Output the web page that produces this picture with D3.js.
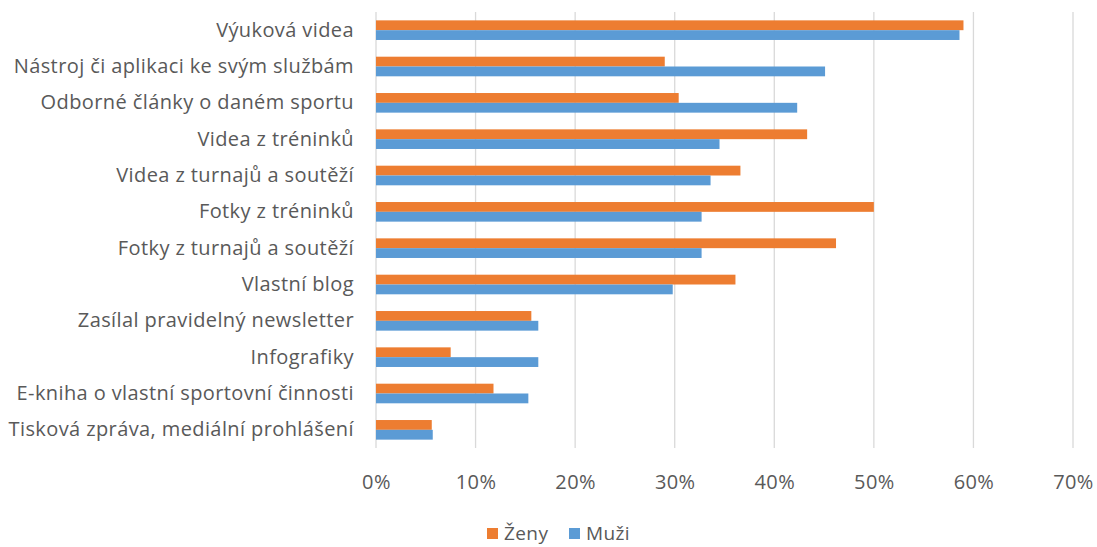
<!DOCTYPE html>
<html>
<head>
<meta charset="utf-8">
<script src="https://cdn.jsdelivr.net/npm/d3@7"></script>
<style>
  body { margin: 0; background: #fff; }
  text { font-family: "Open Sans", sans-serif; fill: #595959; }
</style>
</head>
<body>
<svg id="chart"></svg>
<script>
// categories top to bottom
var categories = [
    "Výuková videa",
    "Nástroj či aplikaci ke svým službám",
    "Odborné články o daném sportu",
    "Videa z tréninků",
    "Videa z turnajů a soutěží",
    "Fotky z tréninků",
    "Fotky z turnajů a soutěží",
    "Vlastní blog",
    "Zasílal pravidelný newsletter",
    "Infografiky",
    "E-kniha o vlastní sportovní činnosti",
    "Tisková zpráva, mediální prohlášení"
];
var zeny = [59.0, 29.0, 30.4, 43.3, 36.6, 50.0, 46.2, 36.1, 15.6, 7.5, 11.8, 5.6];
var muzi = [58.6, 45.1, 42.3, 34.5, 33.6, 32.7, 32.7, 29.8, 16.3, 16.3, 15.3, 5.7];
var seriesNames = ["Ženy", "Muži"];
var seriesColors = ["#ED7D31", "#5B9BD5"];
var xTicks = [0, 10, 20, 30, 40, 50, 60, 70];

var dimensions = {
    width: 1097,
    height: 547,
    margins: { top: 12, right: 24, bottom: 99, left: 376 }
};

var svg = d3.select("#chart")
            .attr("width", dimensions.width)
            .attr("height", dimensions.height);

var plotW = dimensions.width - dimensions.margins.left - dimensions.margins.right;
var plotH = dimensions.height - dimensions.margins.top - dimensions.margins.bottom;

var g = svg.append("g")
           .attr("transform", `translate(${dimensions.margins.left},${dimensions.margins.top})`);

var xScale = d3.scaleLinear().domain([0, 70]).range([0, plotW]);
var yScale = d3.scaleBand().domain(categories).range([0, plotH]).paddingInner(0.46).paddingOuter(0.23);
var ySub = d3.scaleBand().domain(seriesNames).range([0, yScale.bandwidth()]);

// gridlines
g.append("g")
 .selectAll("line")
 .data(xTicks)
 .enter()
 .append("line")
 .attr("x1", d => xScale(d))
 .attr("x2", d => xScale(d))
 .attr("y1", 0)
 .attr("y2", plotH)
 .attr("stroke", "#d9d9d9")
 .attr("stroke-width", 1.3);

// bars
var rows = categories.map((c, i) => ({ cat: c, vals: [zeny[i], muzi[i]] }));

g.append("g")
 .selectAll("g")
 .data(rows)
 .enter()
 .append("g")
 .attr("transform", d => `translate(0,${yScale(d.cat)})`)
 .selectAll("rect")
 .data(d => d.vals.map((v, j) => ({ key: seriesNames[j], value: v, color: seriesColors[j] })))
 .enter()
 .append("rect")
 .attr("x", xScale(0))
 .attr("y", d => ySub(d.key))
 .attr("width", d => xScale(d.value) - xScale(0))
 .attr("height", ySub.bandwidth())
 .attr("fill", d => d.color);

// x axis labels
var xAxis = g.append("g")
 .attr("transform", `translate(0,${plotH})`)
 .call(d3.axisBottom(xScale).tickValues(xTicks).tickFormat(d => d + "%").tickSize(0).tickPadding(27));
xAxis.select(".domain").remove();
xAxis.selectAll("text").style("font-size", "20px").style("letter-spacing", "0.4px").style("font-family", "'Open Sans', sans-serif").attr("fill", "#595959");

// y axis labels
var yAxis = g.append("g")
 .call(d3.axisLeft(yScale).tickSize(0).tickPadding(22));
yAxis.select(".domain").remove();
yAxis.selectAll("text").style("font-size", "20px").style("letter-spacing", "0.4px").style("font-family", "'Open Sans', sans-serif").attr("fill", "#595959");

// legend
var legend = svg.append("g")
                .attr("transform", "translate(487, 533)");
var legendX = [0, 82];
legend.selectAll("rect")
      .data(seriesNames)
      .enter()
      .append("rect")
      .attr("x", (d, i) => legendX[i])
      .attr("y", -5)
      .attr("width", 11)
      .attr("height", 11)
      .attr("fill", (d, i) => seriesColors[i]);
legend.selectAll("text")
      .data(seriesNames)
      .enter()
      .append("text")
      .attr("x", (d, i) => legendX[i] + 17)
      .attr("y", 0)
      .attr("dy", "0.35em")
      .style("font-size", "19px")
      .style("letter-spacing", "0.4px")
      .text(d => d);
</script>
</body>
</html>
